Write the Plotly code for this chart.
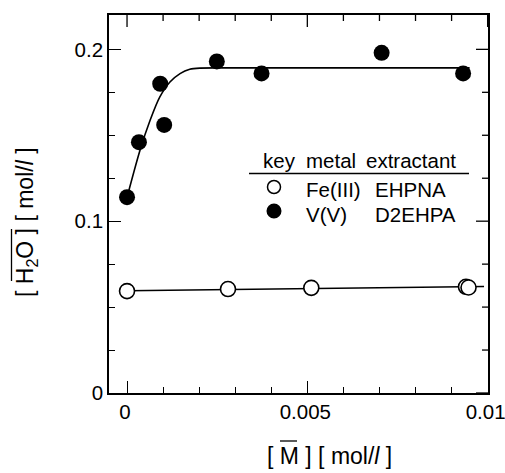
import plotly.graph_objects as go

# ---- data ----
v_x = [0.0, 0.00033, 0.00092, 0.00103, 0.00249, 0.00373, 0.00706, 0.00932]
v_y = [0.114, 0.146, 0.180, 0.156, 0.193, 0.186, 0.198, 0.186]

fe_x = [0.0, 0.0028, 0.00511, 0.0094, 0.00947]
fe_y = [0.0593, 0.0605, 0.0612, 0.0618, 0.0614]

v_fit_x = [0.00004, 0.00036, 0.00064, 0.00091, 0.00119, 0.00147, 0.00174, 0.00202, 0.0030, 0.0095]
v_fit_y = [0.117, 0.1413, 0.1587, 0.1723, 0.181, 0.1859, 0.1884, 0.1891, 0.1892, 0.1892]

fe_fit_x = [0.0, 0.0099]
fe_fit_y = [0.0595, 0.0620]

x_tickvals = [0, 0.005, 0.01]
x_ticktext = ["0", "0.005", "0.01"]
y_tickvals = [0, 0.1, 0.2]
y_ticktext = ["0", "0.1", "0.2"]
x_minor_step = 0.001
y_minor_step = 0.025

legend_metal = ["Fe(III)", "V(V)"]
legend_extr = ["EHPNA", "D2EHPA"]

FONT = "Liberation Sans, Arial, sans-serif"
FS = 20.5
FT = 23

# plot-area pixel geometry
L, R, T, B = 109, 488, 15, 393
W, H = R - L, B - T
def px(x):
    return (x - L) / W
def py(y):
    return (B - y) / H

XR = [-0.0005, 0.01001]
YR = [0, 0.22]

fig = go.Figure()
fig.add_trace(go.Scatter(x=v_fit_x, y=v_fit_y, mode="lines",
                         line=dict(color="black", width=1.6, shape="spline", smoothing=0.8),
                         hoverinfo="skip"))
fig.add_trace(go.Scatter(x=fe_fit_x, y=fe_fit_y, mode="lines",
                         line=dict(color="black", width=1.6), hoverinfo="skip"))
fig.add_trace(go.Scatter(x=fe_x, y=fe_y, mode="markers",
                         marker=dict(symbol="circle", size=15, color="white",
                                     line=dict(color="black", width=1.6))))
fig.add_trace(go.Scatter(x=v_x, y=v_y, mode="markers",
                         marker=dict(symbol="circle", size=16, color="black",
                                     line=dict(color="black", width=0))))

axis_common = dict(showgrid=False, zeroline=False, showline=True, linecolor="black",
                   linewidth=1.6, mirror=True, ticks="inside", ticklen=12,
                   tickwidth=1.3, tickcolor="black", ticklabeloverflow="allow",
                   automargin=False,
                   tickfont=dict(family=FONT, size=FS, color="black"))
xminor = dict(ticks="inside", dtick=x_minor_step, tick0=0, ticklen=6, tickwidth=1.3,
              tickcolor="black")
yminor = dict(ticks="inside", dtick=y_minor_step, tick0=0, ticklen=6, tickwidth=1.3,
              tickcolor="black")

fig.update_layout(
    xaxis=dict(range=XR, tickvals=x_tickvals, ticktext=x_ticktext, minor=xminor,
               ticklabelshift=-2, **axis_common),
    yaxis=dict(range=YR, tickvals=y_tickvals, ticktext=y_ticktext, minor=yminor, **axis_common),
)

shapes = []
# mirrored ticks on the top and right edges
n_xt = int(round(XR[1] / x_minor_step))
for i in range(n_xt + 1):
    v = round(i * x_minor_step, 6)
    ln = 12 if any(abs(v - t) < 1e-9 for t in x_tickvals) else 6
    shapes.append(dict(type="line", xref="x", yref="paper", ysizemode="pixel", yanchor=1,
                       x0=v, x1=v, y0=0, y1=-ln, line=dict(color="black", width=1.3)))
n_yt = int(round(YR[1] / y_minor_step))
for i in range(n_yt + 1):
    v = round(i * y_minor_step, 6)
    ln = 12 if any(abs(v - t) < 1e-9 for t in y_tickvals) else 6
    shapes.append(dict(type="line", xref="paper", yref="y", xsizemode="pixel", xanchor=1,
                       y0=v, y1=v, x0=0, x1=-ln, line=dict(color="black", width=1.3)))

ann = []
# axis titles
ann.append(dict(text="[ M ] [ mol/<i>l</i> ]", x=px(329), y=py(456), xref="paper", yref="paper",
                xanchor="center", yanchor="middle", showarrow=False,
                font=dict(family=FONT, size=FT, color="black")))
ann.append(dict(text="[ H<sub>2</sub>O ] [ mol/<i>l</i> ]", x=px(26), y=py(222), xref="paper",
                yref="paper", xanchor="center", yanchor="middle", textangle=-90,
                showarrow=False, font=dict(family=FONT, size=FT, color="black")))
# legend header
for txt, xl in [("key", 261), ("metal", 304), ("extractant", 364)]:
    ann.append(dict(text=txt, x=px(xl), y=py(160), xref="paper", yref="paper",
                    xanchor="left", yanchor="middle", showarrow=False,
                    font=dict(family=FONT, size=FS, color="black")))
for i, yy in enumerate([189, 214]):
    ann.append(dict(text=legend_metal[i], x=px(304), y=py(yy), xref="paper", yref="paper",
                    xanchor="left", yanchor="middle", showarrow=False,
                    font=dict(family=FONT, size=FS, color="black")))
    ann.append(dict(text=legend_extr[i], x=px(373), y=py(yy), xref="paper", yref="paper",
                    xanchor="left", yanchor="middle", showarrow=False,
                    font=dict(family=FONT, size=FS, color="black")))

# overlines
shapes.append(dict(type="line", xref="paper", yref="paper", x0=px(280), x1=px(297),
                   y0=py(441), y1=py(441), line=dict(color="black", width=1.3)))
shapes.append(dict(type="line", xref="paper", yref="paper", x0=px(11.5), x1=px(11.5),
                   y0=py(229), y1=py(281), line=dict(color="black", width=1.3)))
# legend rule
shapes.append(dict(type="line", xref="paper", yref="paper", x0=px(249), x1=px(469),
                   y0=py(173.5), y1=py(173.5), line=dict(color="black", width=1.3)))
# legend symbols
shapes.append(dict(type="circle", xref="paper", yref="paper", xsizemode="pixel",
                   ysizemode="pixel", xanchor=px(274), yanchor=py(187),
                   x0=-6.5, x1=6.5, y0=-6.5, y1=6.5,
                   fillcolor="white", line=dict(color="black", width=1.5)))
shapes.append(dict(type="circle", xref="paper", yref="paper", xsizemode="pixel",
                   ysizemode="pixel", xanchor=px(274), yanchor=py(211),
                   x0=-7.5, x1=7.5, y0=-7.5, y1=7.5,
                   fillcolor="black", line=dict(color="black", width=0)))

fig.update_layout(width=505, height=473, margin=dict(l=L, r=505 - R, t=T, b=473 - B),
                  paper_bgcolor="white", plot_bgcolor="white", showlegend=False,
                  annotations=ann, shapes=shapes,
                  font=dict(family=FONT, size=FS, color="black"))

fig.write_html("out.html")
